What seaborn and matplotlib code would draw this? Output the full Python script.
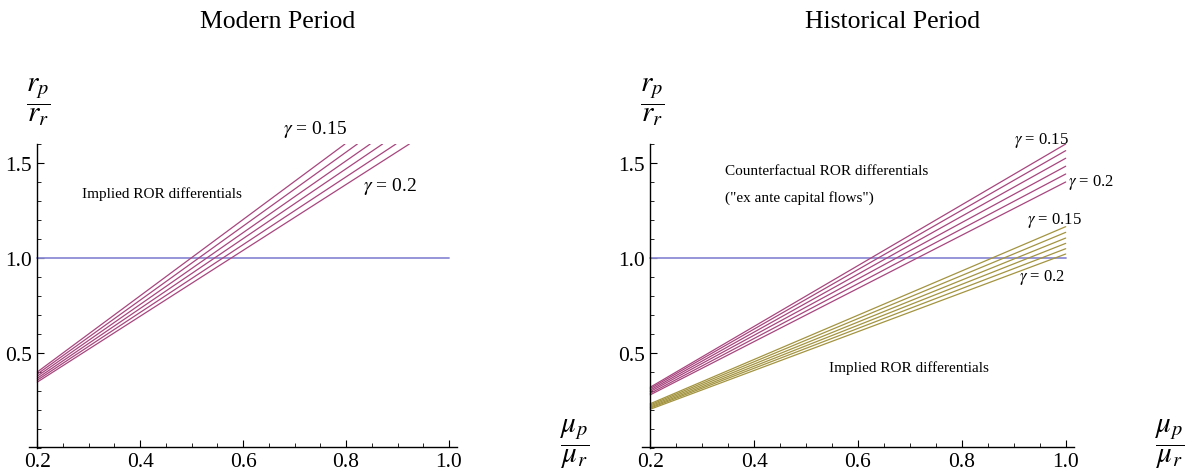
import matplotlib
matplotlib.use("Agg")
import matplotlib.pyplot as plt
import seaborn as sns
import pandas as pd
from matplotlib.ticker import MultipleLocator

# ---------------- data ----------------
gamma_labels = ["0.15", "0.16", "0.17", "0.18", "0.19", "0.2"]

# Modern period: implied ROR differentials (straight lines, start at x=0.2, end at y=1.6)
modern_x_start = [0.2, 0.2, 0.2, 0.2, 0.2, 0.2]
modern_y_start = [0.400, 0.389, 0.378, 0.367, 0.357, 0.347]
modern_x_end = [0.798, 0.822, 0.847, 0.871, 0.897, 0.923]
modern_y_end = [1.6, 1.6, 1.6, 1.6, 1.6, 1.6]

# Historical period: counterfactual (magenta) and implied (gold)
hist_cf_y_start = [0.320, 0.313, 0.305, 0.297, 0.288, 0.280]
hist_cf_y_end = [1.600, 1.565, 1.525, 1.483, 1.442, 1.400]
hist_imp_y_start = [0.233, 0.227, 0.221, 0.215, 0.210, 0.204]
hist_imp_y_end = [1.165, 1.135, 1.105, 1.077, 1.049, 1.021]
hist_x_start = 0.2
hist_x_end = 1.0

parity_x = [0.2, 1.0]
parity_y = [1.0, 1.0]

x_ticks = [0.2, 0.4, 0.6, 0.8, 1.0]
y_ticks = [0.5, 1.0, 1.5]

# ---------------- style ----------------
sns.set_theme(style="white")
plt.rcParams["font.family"] = ["Liberation Serif", "DejaVu Serif"]
plt.rcParams["mathtext.fontset"] = "stix"
plt.rcParams["text.color"] = "black"
plt.rcParams["axes.labelcolor"] = "black"

BLUE = "#8c8cd6"
MAGENTA = "#a8467f"
GOLD = "#a39440"

fig = plt.figure(figsize=(11.94, 4.77), dpi=100)
W, H = 1194, 477

def px_axes(x0, x1, y_top, y_bot):
    return fig.add_axes([x0 / W, 1 - y_bot / H, (x1 - x0) / W, (y_bot - y_top) / H])

ax1 = px_axes(29, 456.7, 145, 449)
ax2 = px_axes(641.7, 1074, 145, 449)

def build_df(xs0, ys0, xs1, ys1, group):
    rows = []
    for g, a, b, c, d in zip(gamma_labels, xs0, ys0, xs1, ys1):
        rows.append({"x": a, "y": b, "gamma": g, "grp": group})
        rows.append({"x": c, "y": d, "gamma": g, "grp": group})
    return pd.DataFrame(rows)

df_mod = build_df(modern_x_start, modern_y_start, modern_x_end, modern_y_end, "mod")
df_cf = build_df([hist_x_start] * 6, hist_cf_y_start, [hist_x_end] * 6, hist_cf_y_end, "cf")
df_imp = build_df([hist_x_start] * 6, hist_imp_y_start, [hist_x_end] * 6, hist_imp_y_end, "imp")
df_par = pd.DataFrame({"x": parity_x, "y": parity_y})

lw = 0.9
for ax in (ax1, ax2):
    sns.lineplot(data=df_par, x="x", y="y", ax=ax, color=BLUE, lw=1.3, legend=False)

sns.lineplot(data=df_mod, x="x", y="y", units="gamma", estimator=None, ax=ax1,
             color=MAGENTA, lw=lw, legend=False)
sns.lineplot(data=df_cf, x="x", y="y", units="gamma", estimator=None, ax=ax2,
             color=MAGENTA, lw=lw, legend=False)
sns.lineplot(data=df_imp, x="x", y="y", units="gamma", estimator=None, ax=ax2,
             color=GOLD, lw=lw, legend=False)

for ax, xl in ((ax1, (0.1839, 1.015)), (ax2, (0.1835, 1.016))):
    ax.set_xlim(*xl)
    ax.set_ylim(0.0, 1.6)
    ax.set_facecolor("none")
    for s in ("top", "right"):
        ax.spines[s].set_visible(False)
    ax.spines["left"].set_position(("data", 0.2))
    ax.spines["bottom"].set_position(("data", 0.007))
    for s in ("left", "bottom"):
        ax.spines[s].set_color("black")
        ax.spines[s].set_linewidth(1.0)
    ax.set_xticks(x_ticks)
    ax.set_xticklabels([f"{v:.1f}" for v in x_ticks])
    ax.set_yticks(y_ticks)
    ax.set_yticklabels([f"{v:.1f}" for v in y_ticks])
    ax.xaxis.set_minor_locator(MultipleLocator(0.05))
    ax.yaxis.set_minor_locator(MultipleLocator(0.1))
    ax.tick_params(which="major", direction="in", length=5, width=0.8, labelsize=15.5,
                   colors="black", pad=4)
    ax.tick_params(which="minor", direction="in", length=3, width=0.6, colors="black")
    ax.tick_params(axis="x", which="both", bottom=True, top=False)
    ax.tick_params(axis="y", which="both", left=True, right=False)
    ax.set_xlabel("")
    ax.set_ylabel("")
    ax.grid(False)

# axis fraction labels
for xy in (38, 652):
    fig.text(xy / W, 1 - 102 / H, r"$\dfrac{r_p}{r_r}$", fontsize=21, ha="center", va="center")
fig.text(575 / W, 1 - 444 / H, r"$\dfrac{\mu_p}{\mu_r}$", fontsize=21, ha="center", va="center")
fig.text(1170 / W, 1 - 444 / H, r"$\dfrac{\mu_p}{\mu_r}$", fontsize=21, ha="center", va="center")

# titles
fig.text(278 / W, 1 - 22 / H, "Modern Period", fontsize=18.5, ha="center", va="center")
fig.text(893 / W, 1 - 22 / H, "Historical Period", fontsize=18.5, ha="center", va="center")

# annotations - modern
ax1.text(0.442, 1.342, "Implied ROR differentials", fontsize=11, ha="center", va="center")
ax1.text(0.740, 1.68, r"$\gamma$ = 0.15", fontsize=14, ha="center", va="center", clip_on=False)
ax1.text(0.885, 1.384, r"$\gamma$ = 0.2", fontsize=14, ha="center", va="center")

# annotations - historical
ax2.text(0.344, 1.463, "Counterfactual ROR differentials", fontsize=11, ha="left", va="center")
ax2.text(0.344, 1.321, '("ex ante capital flows")', fontsize=11, ha="left", va="center")
ax2.text(0.954, 1.626, r"$\gamma$ = 0.15", fontsize=12, ha="center", va="center", clip_on=False)
ax2.text(1.05, 1.405, r"$\gamma$ = 0.2", fontsize=12, ha="center", va="center", clip_on=False)
ax2.text(0.979, 1.200, r"$\gamma$ = 0.15", fontsize=12, ha="center", va="center")
ax2.text(0.954, 0.900, r"$\gamma$ = 0.2", fontsize=12, ha="center", va="center")
ax2.text(0.698, 0.426, "Implied ROR differentials", fontsize=11, ha="center", va="center")

fig.savefig("out.png", dpi=100)
